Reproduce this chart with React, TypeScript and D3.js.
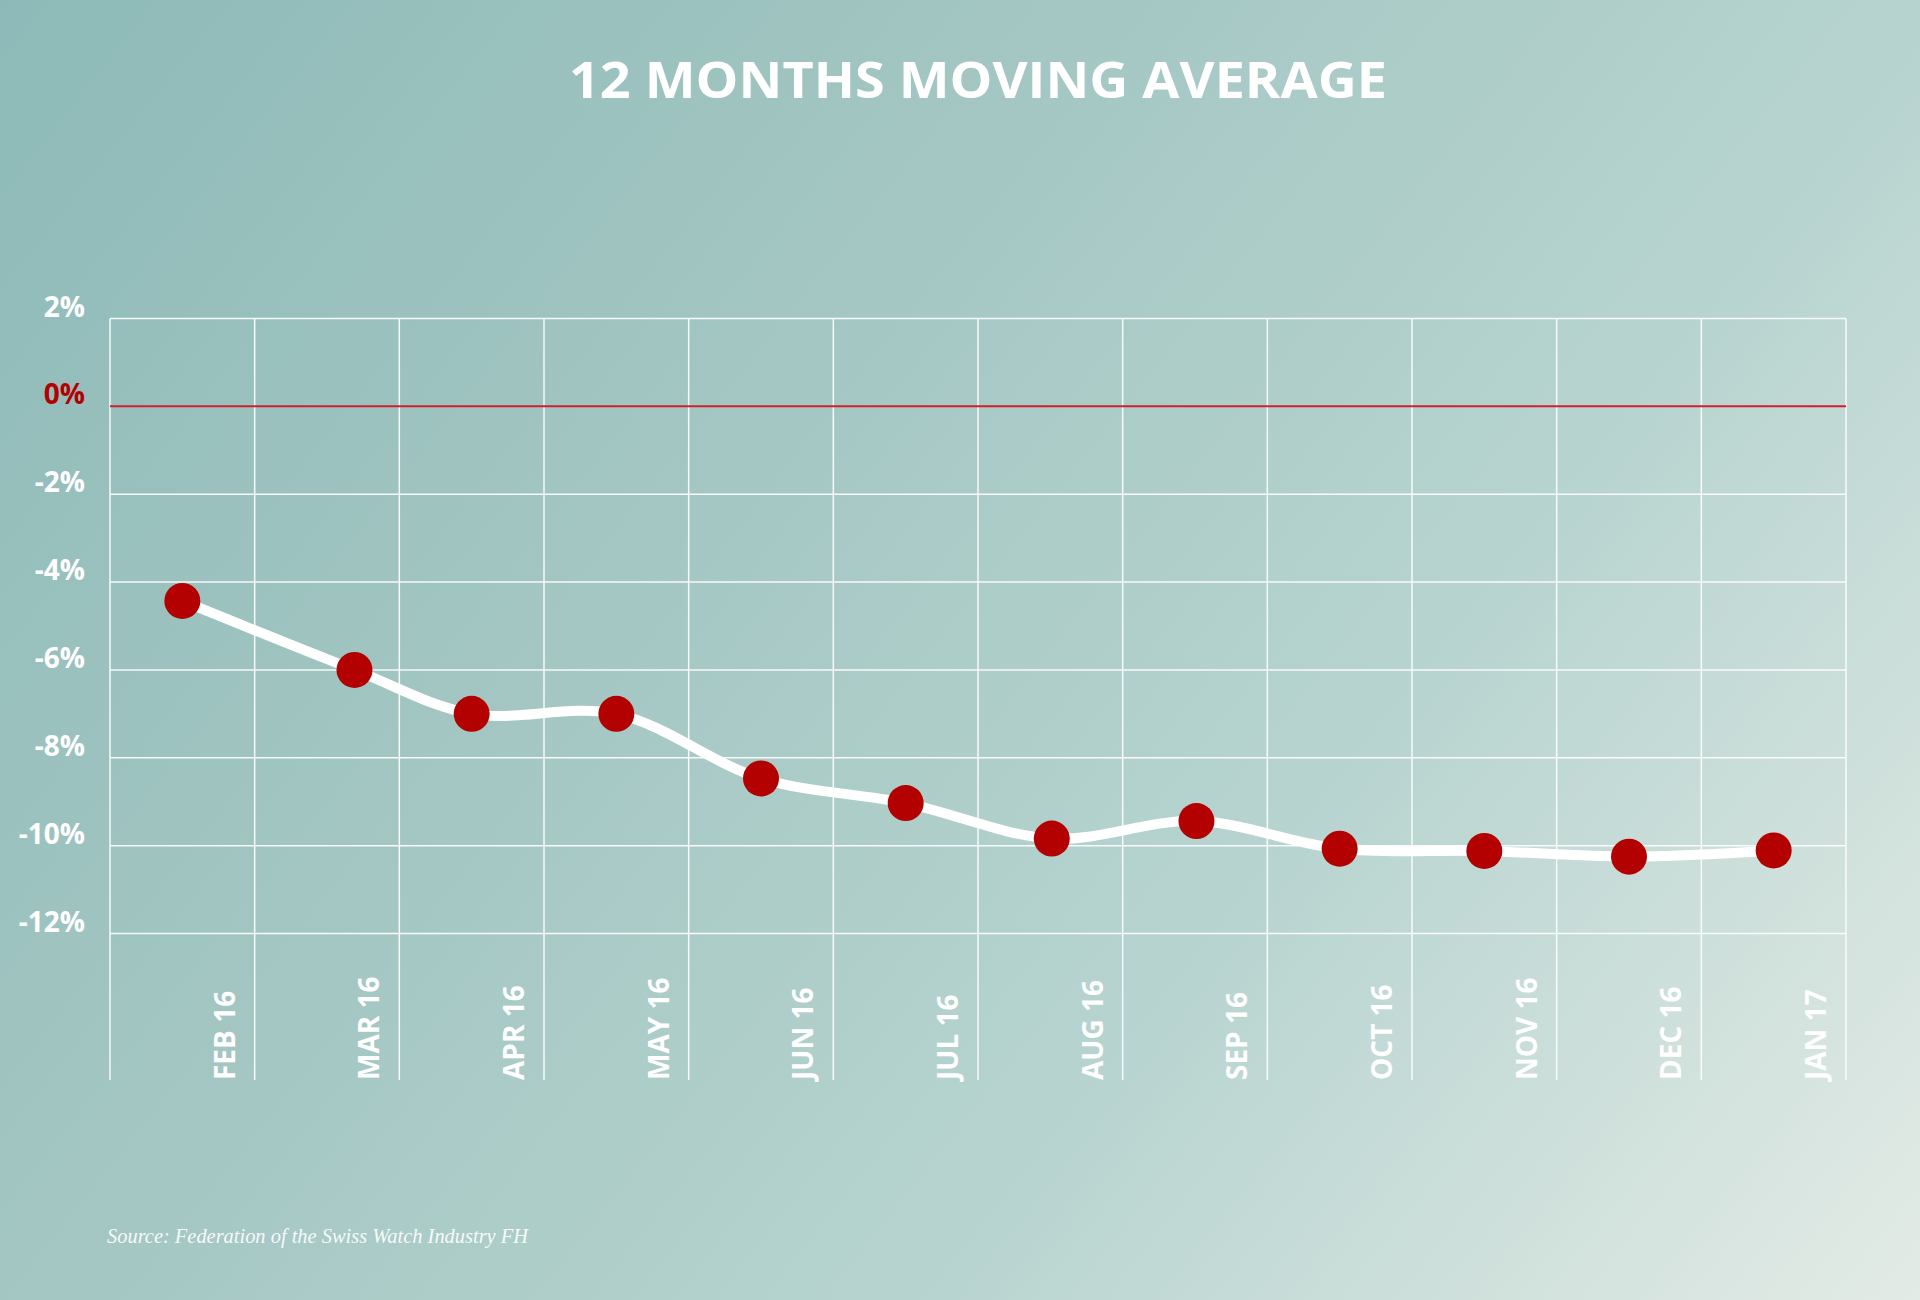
import React from 'react';
import * as d3 from 'd3';

const months = ['FEB 16', 'MAR 16', 'APR 16', 'MAY 16', 'JUN 16', 'JUL 16', 'AUG 16', 'SEP 16', 'OCT 16', 'NOV 16', 'DEC 16', 'JAN 17'];
// position of each point inside the month grid (column index, 0.5 = column centre)
const pointPos = [0.5, 1.69, 2.5, 3.5, 4.5, 5.5, 6.51, 7.51, 8.5, 9.5, 10.5, 11.5];
const values = [-4.43, -6.0, -7.0, -7.0, -8.47, -9.03, -9.84, -9.44, -10.07, -10.12, -10.25, -10.11];
const yTicks = [2, 0, -2, -4, -6, -8, -10, -12];

const W = 1920;
const H = 1300;
const left = 110;
const right = 1846;
const top = 318.5;
const gridBottom = 933.5;
const colBottom = 1080;

const App = () => {
  const x = d3.scaleBand().domain(months).range([left, right]).padding(0);
  const xPos = d3.scaleLinear().domain([0, months.length]).range([left, right]);
  const y = d3.scaleLinear().domain([-12, 2]).range([gridBottom, top]);

  const line = d3.line<number>()
    .x((d, i) => xPos(pointPos[i]))
    .y(d => y(d))
    .curve(d3.curveCatmullRom.alpha(0.5));

  const colEdges = [left, ...months.map(m => x(m)! + x.bandwidth())];
  const font = '"Open Sans", "DejaVu Sans", sans-serif';

  return (
    <svg width={W} height={H} style={{ display: 'block', position: 'absolute', left: 0, top: 0 }}>
      <defs>
        <linearGradient id="bg" gradientUnits="userSpaceOnUse" x1={0} y1={0} x2={1809} y2={1439}>
          <stop offset="0" stopColor="#8dbab8" />
          <stop offset="0.35" stopColor="#a3c6c2" />
          <stop offset="0.65" stopColor="#b6d3cf" />
          <stop offset="1" stopColor="#e3ebe6" />
        </linearGradient>
      </defs>
      <rect width={W} height={H} fill="url(#bg)" />

      <text x={978} y={98} textAnchor="middle" fill="#fff" fontFamily={font} fontWeight={700}
        fontSize={50} textLength={818} lengthAdjust="spacingAndGlyphs">
        12 MONTHS MOVING AVERAGE
      </text>

      {/* grid */}
      {colEdges.map((cx, i) => (
        <line key={'v' + i} x1={cx} x2={cx} y1={top} y2={colBottom} stroke="#fff" strokeWidth={1.5} strokeOpacity={0.9} />
      ))}
      {yTicks.filter(t => t !== 0).map(t => (
        <line key={'h' + t} x1={left} x2={right} y1={y(t)} y2={y(t)} stroke="#fff" strokeWidth={1.5} strokeOpacity={0.9} />
      ))}
      <line x1={left} x2={right} y1={y(0)} y2={y(0)} stroke="#d21f2d" strokeWidth={2} />

      {/* y labels */}
      {yTicks.map(t => (
        <text key={'yl' + t} x={85} y={y(t) - 2} textAnchor="end" fontFamily={font} fontWeight={700}
          fontSize={28} fill={t === 0 ? '#b30000' : '#fff'}>
          {t + '%'}
        </text>
      ))}

      {/* x labels */}
      {months.map(m => (
        <text key={'xl' + m} transform={`translate(${x(m)! + x.bandwidth() - 20},${1080}) rotate(-90)`}
          fontFamily={font} fontWeight={700} fontSize={28} fill="#fff">
          {m}
        </text>
      ))}

      <path d={line(values) || ''} fill="none" stroke="#fff" strokeWidth={10} strokeLinecap="round" />
      {values.map((v, i) => (
        <circle key={'c' + i} cx={xPos(pointPos[i])} cy={y(v)} r={18} fill="#b30000" />
      ))}

      <text x={107} y={1243} fontFamily='"Liberation Serif", serif' fontStyle="italic" fontSize={20}
        fill="#fff" fillOpacity={0.92} textLength={421} lengthAdjust="spacingAndGlyphs">
        Source: Federation of the Swiss Watch Industry FH
      </text>
    </svg>
  );
};

export default App;
